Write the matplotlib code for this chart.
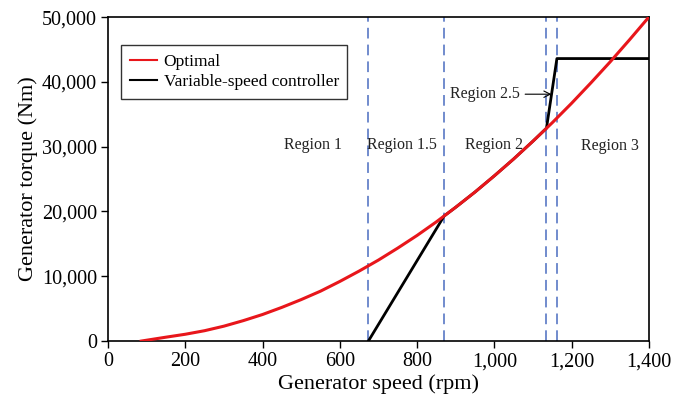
import matplotlib.pyplot as plt
from matplotlib.ticker import FuncFormatter

plt.rcParams['font.family'] = ['Liberation Serif', 'DejaVu Serif']

# optimal torque curve (rpm, Nm)
opt_speed = [86, 150, 200, 250, 300, 350, 400, 450, 500, 550, 600, 650, 700, 750,
             800, 850, 900, 950, 1000, 1050, 1100, 1150, 1200, 1250, 1300, 1350, 1400]
opt_torque = [0, 600, 1050, 1600, 2300, 3150, 4100, 5200, 6400, 7700, 9200, 10800, 12500, 14350,
              16300, 18400, 20650, 23000, 25500, 28100, 30850, 33700, 36700, 39850, 43100, 46500, 50000]

# variable-speed controller
ctrl_speed = [674, 870, 900, 950, 1000, 1050, 1100, 1135, 1162, 1400]
ctrl_torque = [0, 19300, 20650, 23000, 25500, 28100, 30850, 32850, 43600, 43600]

region_bounds = [674, 870, 1135, 1162]
region_names = ['Region 1', 'Region 1.5', 'Region 2', 'Region 3']
region_x = [530, 760, 1000, 1300]
region_y = [30300, 30300, 30300, 30100]

fig = plt.figure(figsize=(6.78, 4.07), dpi=100)
ax = fig.add_axes([0.1593, 0.162, 0.7977, 0.796])

for xb in region_bounds:
    ax.axvline(xb, color='#4a6cc0', lw=1.1, ls=(0, (7, 4)), zorder=1)

ax.plot(ctrl_speed, ctrl_torque, color='black', lw=2, label='Variable-speed controller', zorder=2)
ax.plot(opt_speed, opt_torque, color='#e8161b', lw=2.2, label='Optimal', zorder=3)

for name, xr, yr in zip(region_names, region_x, region_y):
    ax.text(xr, yr, name, ha='center', va='center', fontsize=11.5, color='#222222')

ax.annotate('Region 2.5', xy=(1148, 38100), xytext=(975, 38100),
            ha='center', va='center', fontsize=11.5, color='#222222',
            arrowprops=dict(arrowstyle='->', color='black', lw=0.8, shrinkA=2, shrinkB=0))

ax.set_xlim(0, 1400)
ax.set_ylim(0, 50000)
ax.set_xticks(range(0, 1401, 200))
ax.set_yticks(range(0, 50001, 10000))
ax.xaxis.set_major_formatter(FuncFormatter(lambda v, p: f'{int(v):,}'))
ax.yaxis.set_major_formatter(FuncFormatter(lambda v, p: f'{int(v):,}'))
ax.tick_params(direction='out', length=5, width=1, labelsize=14.5, color='black', pad=3)
for s in ax.spines.values():
    s.set_linewidth(1.2)

ax.set_xlabel('Generator speed (rpm)', fontsize=16, labelpad=2)
ax.set_ylabel('Generator torque (Nm)', fontsize=16, labelpad=3)

h, l = ax.get_legend_handles_labels()
leg = ax.legend(h[::-1], l[::-1], loc='upper left', bbox_to_anchor=(0.024, 0.914),
                borderaxespad=0, fontsize=12.5, frameon=True, fancybox=False,
                edgecolor='black', handlelength=1.6, handletextpad=0.35,
                borderpad=0.5, labelspacing=0.25)
leg.get_frame().set_linewidth(1)
for line in leg.get_lines():
    line.set_linewidth(1.5)

fig.savefig('out.png', dpi=100)
